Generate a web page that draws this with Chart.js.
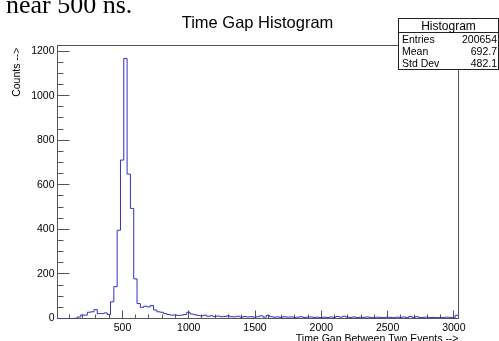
<!DOCTYPE html>
<html>
<head>
<meta charset="utf-8">
<script src="https://cdn.jsdelivr.net/npm/chart.js@4.4.0/dist/chart.umd.min.js"></script>
<style>
  html, body { margin: 0; padding: 0; background: #fff; }
  #wrap { width: 499px; height: 341px; }
</style>
</head>
<body>
<div id="wrap"><canvas id="myChart" width="499" height="341"></canvas></div>
<script>
// histogram: 25 ns bins starting at 10 ns
const binStart = 10;
const binWidth = 25;
const counts = [
  0, 0, 0, 0, 0, 1, 7, 16, 15, 28,
  30, 40, 22, 22, 25, 18, 75, 143, 396, 711,
  1167, 648, 494, 178, 67, 50, 55, 52, 58, 38,
  30, 28, 22, 18, 15, 16, 14, 15, 18, 28,
  20, 17, 14, 12, 15, 10, 12, 9, 11, 8,
  9, 12, 8, 7, 10, 6, 9, 7, 8, 6,
  8, 12, 6, 14, 8, 6, 7, 5, 8, 6,
  7, 5, 6, 8, 5, 6, 7, 5, 6, 4,
  6, 5, 7, 5, 9, 6, 10, 6, 5, 7,
  4, 6, 5, 7, 5, 4, 6, 5, 4, 6,
  5, 4, 6, 5, 7, 4, 9, 5, 8, 4,
  5, 6, 4, 5, 4, 5, 4, 6, 5, 4,
  14
];
const xMajorTicks = [500, 1000, 1500, 2000, 2500, 3000];
const yMajorTicks = [0, 200, 400, 600, 800, 1000, 1200];
const statsRows = [
  ["Entries", "200654"],
  ["Mean", "692.7"],
  ["Std Dev", "482.1"],
];

const points = counts.map((c, i) => ({ x: binStart + i * binWidth, y: c }));
points.push({ x: binStart + counts.length * binWidth, y: counts[counts.length - 1] });

const SANS = "'Liberation Sans', Arial, sans-serif";
const SERIF = "'Liberation Serif', 'Times New Roman', serif";

const rootStyle = {
  id: "rootStyle",
  beforeDatasetsDraw(chart) {
    const { ctx, chartArea: a, scales: { x, y } } = chart;
    ctx.save();
    ctx.strokeStyle = "#555";
    ctx.lineWidth = 1;
    ctx.strokeRect(a.left, a.top, a.right - a.left, a.bottom - a.top);

    // ticks on the inside, ROOT style
    ctx.beginPath();
    for (let v = 100; v <= 3000; v += 100) {
      const px = Math.floor(x.getPixelForValue(v)) + 0.5;
      const len = v % 500 === 0 ? 8 : 4;
      ctx.moveTo(px, a.bottom);
      ctx.lineTo(px, a.bottom - len);
    }
    for (let v = 0; v <= 1200; v += 50) {
      const py = Math.floor(y.getPixelForValue(v)) + 0.5;
      const len = v % 200 === 0 ? 12 : 6;
      ctx.moveTo(a.left, py);
      ctx.lineTo(a.left + len, py);
    }
    ctx.stroke();

    ctx.fillStyle = "#000";
    ctx.font = "10.5px " + SANS;
    ctx.textAlign = "right";
    ctx.textBaseline = "middle";
    yMajorTicks.forEach((v) => ctx.fillText(String(v), a.left - 3, y.getPixelForValue(v)));
    ctx.textAlign = "center";
    ctx.textBaseline = "alphabetic";
    xMajorTicks.forEach((v) => ctx.fillText(String(v), x.getPixelForValue(v), 331));

    // axis titles
    ctx.textAlign = "right";
    ctx.fillText("Time Gap Between Two Events -->", a.right, 342);
    ctx.save();
    ctx.translate(20, a.top + 2);
    ctx.rotate(-Math.PI / 2);
    ctx.textAlign = "right";
    ctx.fillText("Counts -->", 0, 0);
    ctx.restore();

    // title
    ctx.font = "16.5px " + SANS;
    ctx.textAlign = "center";
    ctx.fillText("Time Gap Histogram", 257.5, 28);

    // leftover caption text from the page above the figure
    ctx.font = "26px " + SERIF;
    ctx.textAlign = "left";
    ctx.fillText("near 500 ns.", 6, 13);
    ctx.restore();
  },
  afterDraw(chart) {
    const { ctx } = chart;
    ctx.save();
    // stats box
    ctx.fillStyle = "#fff";
    ctx.fillRect(398.5, 18.5, 100, 51);
    ctx.strokeStyle = "#222";
    ctx.lineWidth = 1;
    ctx.strokeRect(398.5, 18.5, 100, 51);
    ctx.beginPath();
    ctx.moveTo(398.5, 32.5);
    ctx.lineTo(498.5, 32.5);
    ctx.stroke();

    ctx.fillStyle = "#000";
    ctx.font = "12px " + SANS;
    ctx.textAlign = "center";
    ctx.fillText("Histogram", 448.5, 29.5);
    ctx.font = "10.5px " + SANS;
    statsRows.forEach(([k, v], i) => {
      const base = 43 + i * 12;
      ctx.textAlign = "left";
      ctx.fillText(k, 402, base);
      ctx.textAlign = "right";
      ctx.fillText(v, 497, base);
    });
    ctx.restore();
  },
};

const config = {
  type: "line",
  data: {
    datasets: [
      {
        label: "Time Gap Histogram",
        data: points,
        stepped: true,
        borderColor: "#3030c0",
        borderWidth: 1,
        pointRadius: 0,
        fill: false,
      },
    ],
  },
  options: {
    responsive: false,
    animation: false,
    layout: {
      padding: { left: 57.5, right: 40.5, top: 45.5, bottom: 22.5 },
    },
    scales: {
      x: { type: "linear", min: 10, max: 3035, display: false },
      y: { type: "linear", min: 0, max: 1225, display: false },
    },
    plugins: {
      legend: { display: false },
      tooltip: { enabled: false },
    },
  },
  plugins: [rootStyle],
};

new Chart(document.getElementById("myChart"), config);
</script>
</body>
</html>
